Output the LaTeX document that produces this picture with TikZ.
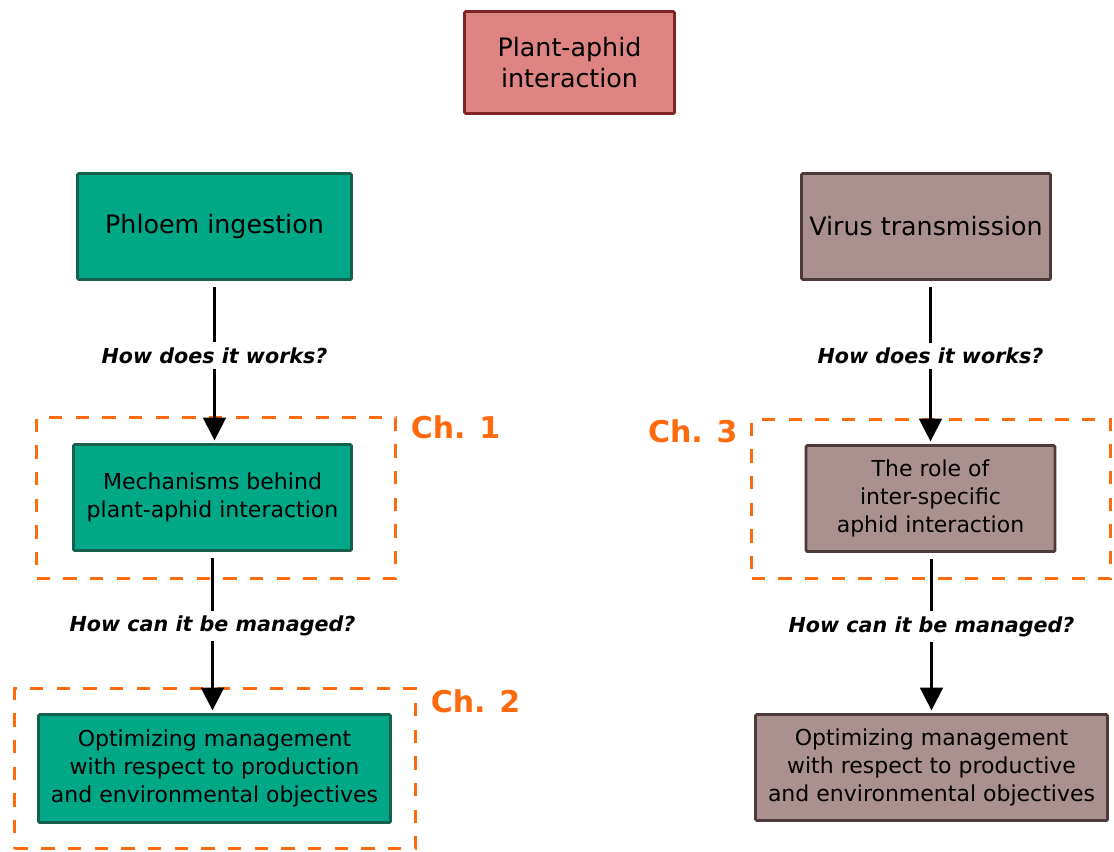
\documentclass[tikz,border=0pt]{standalone}
\usepackage{fontspec}
\setmainfont{DejaVu Sans}
\usetikzlibrary{positioning,arrows.meta}

\definecolor{rosefill}{HTML}{DE8584}
\definecolor{roseline}{HTML}{7F2325}
\definecolor{leaffill}{HTML}{00A887}
\definecolor{leafline}{HTML}{17604E}
\definecolor{mauvefill}{HTML}{AA9190}
\definecolor{mauveline}{HTML}{4D3B3B}
\definecolor{chorange}{HTML}{FF6A0D}

\begin{document}
\begin{tikzpicture}[
x=0.75pt, y=-0.75pt,
box/.style={draw, line width=2.2pt, rounded corners=1pt, align=center, inner sep=0pt},
title/.style={box, font=\fontsize{19}{23}\selectfont},
sub/.style={box, font=\fontsize{16.5}{21}\selectfont},
rosebox/.style={fill=rosefill, draw=roseline},
greenbox/.style={fill=leaffill, draw=leafline},
mauvebox/.style={fill=mauvefill, draw=mauveline},
chbox/.style={draw=chorange, line width=2.5pt, dash pattern=on 10pt off 10pt, inner sep=0pt},
chlabel/.style={text=chorange, font=\fontsize{22.5}{27}\selectfont\bfseries, inner sep=0pt},
arrow/.style={-{Triangle[width=17pt, length=17pt]}, line width=1.9pt, shorten <=4.5pt, shorten >=2pt},
question/.style={fill=white, font=\fontsize{15.5}{19}\selectfont\bfseries\itshape, inner xsep=2pt, inner ysep=4pt, pos=0.46},
]

\useasboundingbox (0,0) rectangle (1114,851);

% chapter frames
\node[chbox, minimum width=269.25pt, minimum height=120.75pt] (ch1box) at (216,498) {};
\node[chbox, minimum width=300.75pt, minimum height=120pt] (ch2box) at (215,768.5) {};
\node[chbox, minimum width=269.25pt, minimum height=119.25pt] (ch3box) at (931,499) {};

\node[chlabel] (ch1) [below right=0pt and 10pt of ch1box.north east] {Ch. 1};
\node[chlabel] (ch2) [below right=2pt and 10pt of ch2box.north east] {Ch. 2};
\node[chlabel] (ch3) [below left=1pt and 9pt of ch3box.north west] {Ch. 3};

% boxes
\node[title, rosebox, minimum width=157.5pt, minimum height=76.5pt] (top) at (569.5,62.5) {Plant-aphid\\interaction};

\node[title, greenbox, minimum width=205.5pt, minimum height=79.5pt] (phloem) at (214.5,226.5) {Phloem ingestion};
\node[sub, greenbox, minimum width=208.5pt, minimum height=79.5pt] (mech) at (212.5,497.5) {Mechanisms behind\\plant-aphid interaction};
\node[sub, greenbox, minimum width=264pt, minimum height=81pt] (optleft) at (214.5,768.5) {Optimizing management\\with respect to production\\and environmental objectives};

\node[title, mauvebox, minimum width=186.75pt, minimum height=79.5pt] (virus) at (926,226.5) {Virus transmission};
\node[sub, mauvebox, minimum width=186.75pt, minimum height=79.5pt] (role) at (930.5,498.5) {The role of\\inter-specific\\aphid interaction};
\node[sub, mauvebox, minimum width=264pt, minimum height=79.5pt] (optright) at (931.5,767.5) {Optimizing management\\with respect to productive\\and environmental objectives};

% arrows
\draw[arrow] (phloem.south) -- (phloem.south |- mech.north) node[question] {How does it works?};
\draw[arrow] (mech.south) -- (mech.south |- optleft.north) node[question] {How can it be managed?};
\draw[arrow] (virus.south -| role.north) -- (role.north) node[question] {How does it works?};
\draw[arrow] (role.south -| optright.north) -- (optright.north) node[question] {How can it be managed?};

\end{tikzpicture}
\end{document}
